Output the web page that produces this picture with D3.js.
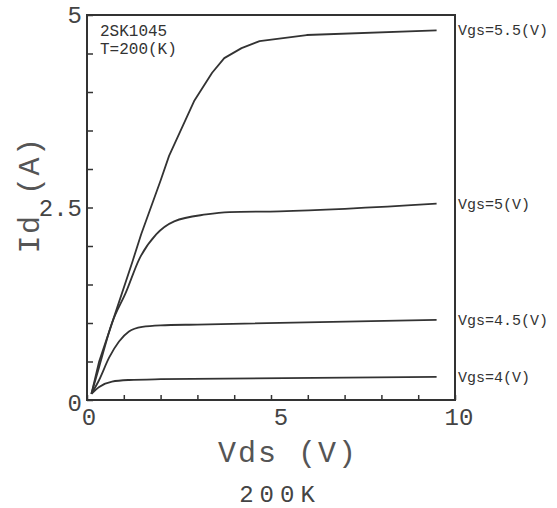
<!DOCTYPE html>
<html>
<head>
<meta charset="utf-8">
<script src="https://cdn.jsdelivr.net/npm/d3@7"></script>
<style>
  body { margin: 0; background: #fff; }
  text { font-family: "Liberation Mono", "DejaVu Sans Mono", monospace; }
</style>
</head>
<body>
<div class="chart"></div>
<script>
// values
const vgsLabels = ["Vgs=5.5(V)", "Vgs=5(V)", "Vgs=4.5(V)", "Vgs=4(V)"];

const vds55 = [0.12, 0.33, 0.82, 1.23, 1.47, 2.0, 2.23, 2.92, 3.4, 3.73, 4.2, 4.69, 5.97, 9.5];
const id55  = [0.08, 0.5, 1.2, 1.79, 2.15, 2.85, 3.17, 3.89, 4.25, 4.44, 4.57, 4.66, 4.74, 4.8];

const vds50 = [0.12, 0.33, 0.68, 1.06, 1.42, 1.88, 2.37, 3.24, 3.87, 5.23, 9.5];
const id50  = [0.08, 0.43, 1.0, 1.4, 1.83, 2.15, 2.32, 2.41, 2.44, 2.45, 2.55];

const vds45 = [0.12, 0.33, 0.6, 0.87, 1.14, 1.5, 2.0, 3.0, 9.5];
const id45  = [0.08, 0.26, 0.55, 0.76, 0.89, 0.95, 0.97, 0.98, 1.04];

const vds40 = [0.12, 0.33, 0.68, 1.14, 2.0, 9.5];
const id40  = [0.08, 0.17, 0.24, 0.26, 0.27, 0.30];

const xTickLabels = [0, 5, 10];
const yTickLabels = [0, 2.5, 5];

const series = [
  {name: vgsLabels[0], pts: vds55.map((v, i) => [v, id55[i]]), curve: d3.curveLinear},
  {name: vgsLabels[1], pts: vds50.map((v, i) => [v, id50[i]]), curve: d3.curveMonotoneX},
  {name: vgsLabels[2], pts: vds45.map((v, i) => [v, id45[i]]), curve: d3.curveMonotoneX},
  {name: vgsLabels[3], pts: vds40.map((v, i) => [v, id40[i]]), curve: d3.curveMonotoneX}
];

const W = 557, H = 508;
const plotL = 87, plotR = 455, plotT = 15, plotB = 400;
const ink = "#333";

const svg = d3.select(".chart").append("svg")
  .attr("width", W)
  .attr("height", H);

const xScale = d3.scaleLinear().domain([0, 10]).range([plotL, plotR]);
const yScale = d3.scaleLinear().domain([0, 5]).range([plotB, plotT]);

// frame
svg.append("rect")
  .attr("x", plotL).attr("y", plotT)
  .attr("width", plotR - plotL).attr("height", plotB - plotT)
  .attr("fill", "none").attr("stroke", ink).attr("stroke-width", 2);

// inward ticks, labels only at 0 / mid / max
const xAxis = d3.axisBottom(xScale).tickValues(d3.range(0, 10.01, 1))
  .tickSizeInner(-5).tickSizeOuter(0).tickFormat("");
const yAxis = d3.axisLeft(yScale).tickValues(d3.range(0, 5.01, 0.5))
  .tickSizeInner(-6).tickSizeOuter(0).tickFormat("");

svg.append("g").attr("class", "axis x-axis")
  .attr("transform", `translate(0, ${plotB})`).call(xAxis)
  .call(g => g.select(".domain").remove())
  .selectAll("line").attr("stroke", ink).attr("stroke-width", 1.5);

svg.append("g").attr("class", "axis y-axis")
  .attr("transform", `translate(${plotL}, 0)`).call(yAxis)
  .call(g => g.select(".domain").remove())
  .selectAll("line").attr("stroke", ink).attr("stroke-width", 1.5);

svg.selectAll(".xlab")
  .data(xTickLabels)
  .enter().append("text")
  .attr("class", "xlab")
  .attr("x", d => xScale(d) + (d === 0 ? 2 : d === 5 ? 10 : 4))
  .attr("y", plotB + 25)
  .attr("text-anchor", "middle")
  .attr("font-size", "24px")
  .attr("fill", "#444")
  .text(d => d);

svg.selectAll(".ylab")
  .data(yTickLabels)
  .enter().append("text")
  .attr("class", "ylab")
  .attr("x", plotL - 5)
  .attr("y", d => yScale(d) + (d === 0 ? 11 : 8))
  .attr("text-anchor", "end")
  .attr("font-size", "24px")
  .attr("fill", "#444")
  .text(d => d);

// curves
const line = d3.line()
  .x(d => xScale(d[0]))
  .y(d => yScale(d[1]));

svg.selectAll(".curve")
  .data(series)
  .enter().append("path")
  .attr("class", "curve")
  .attr("d", d => line.curve(d.curve)(d.pts))
  .attr("fill", "none")
  .attr("stroke", ink)
  .attr("stroke-width", 1.8)
  .attr("stroke-linejoin", "round");

svg.selectAll(".vgs")
  .data(series)
  .enter().append("text")
  .attr("class", "vgs")
  .attr("x", plotR + 3)
  .attr("y", d => yScale(d.pts[d.pts.length - 1][1]) + 5)
  .attr("font-size", "15px")
  .attr("fill", ink)
  .text(d => d.name);

// device note
svg.append("text")
  .attr("x", 100).attr("y", 36)
  .attr("font-size", "16px").attr("fill", ink)
  .text("2SK1045");
svg.append("text")
  .attr("x", 100).attr("y", 54)
  .attr("font-size", "16px").attr("fill", ink)
  .text("T=200(K)");

// titles
svg.append("text")
  .attr("x", 288).attr("y", 462)
  .attr("text-anchor", "middle")
  .attr("font-size", "30px")
  .attr("letter-spacing", "2px")
  .attr("fill", "#555")
  .text("Vds (V)");

svg.append("text")
  .attr("transform", "translate(39, 195) rotate(-90)")
  .attr("text-anchor", "middle")
  .attr("font-size", "30px")
  .attr("letter-spacing", "1.5px")
  .attr("fill", "#555")
  .text("Id (A)");

svg.append("text")
  .attr("x", 280).attr("y", 502)
  .attr("text-anchor", "middle")
  .attr("font-size", "24px")
  .attr("letter-spacing", "6px")
  .attr("fill", "#444")
  .text("200K");
</script>
</body>
</html>
